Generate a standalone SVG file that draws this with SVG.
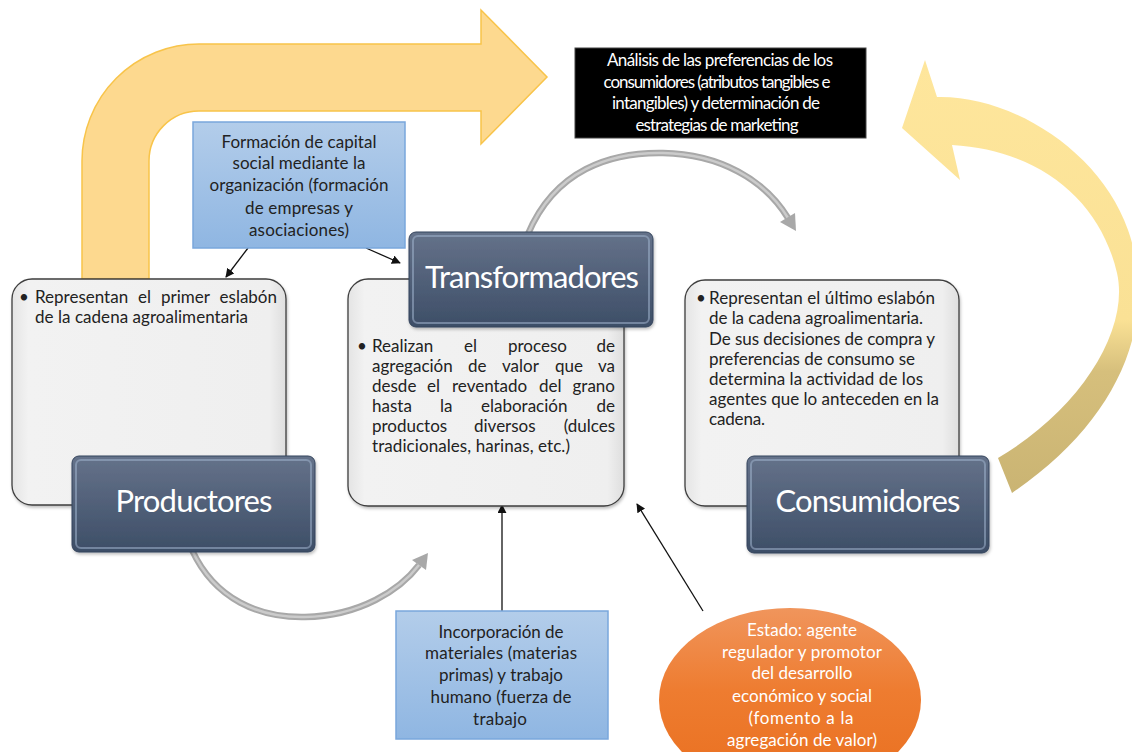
<svg xmlns="http://www.w3.org/2000/svg" width="1132" height="752" viewBox="0 0 1132 752">
<style>
.t{font-family:Lato,"Liberation Sans",sans-serif;font-size:17px;fill:#222}
.c{text-anchor:middle}
.w{fill:#fff}
.ttl{font-family:Lato,"Liberation Sans",sans-serif;font-size:31px;fill:#fff;text-anchor:middle}
.cbox{fill:url(#cg);stroke:#3e3e3e;stroke-width:1.3}
.tbox{fill:url(#tg);stroke:#34445c;stroke-width:1}
.tin{fill:none;stroke:#9fb2cc;stroke-opacity:0.55;stroke-width:2}
.bbox{fill:url(#bg);stroke:#79a7dc;stroke-width:1.5}
.con{fill:none;stroke:#111;stroke-width:1.3;marker-end:url(#ah)}
.arcO{fill:none;stroke:#a8a8a8;stroke-width:6.5}
.arcI{fill:none;stroke:#cbcbcb;stroke-width:2.5}
</style>
<defs>
<linearGradient id="cg" x1="0" y1="0" x2="1" y2="0">
<stop offset="0" stop-color="#e4e4e4"/><stop offset="0.06" stop-color="#f2f2f2"/><stop offset="0.94" stop-color="#efefef"/><stop offset="1" stop-color="#dedede"/>
</linearGradient>
<linearGradient id="tg" x1="0" y1="0" x2="0" y2="1">
<stop offset="0" stop-color="#65728a"/><stop offset="1" stop-color="#3d4e67"/>
</linearGradient>
<linearGradient id="bg" x1="0" y1="0" x2="0" y2="1">
<stop offset="0" stop-color="#b3cdea"/><stop offset="1" stop-color="#8fb6e2"/>
</linearGradient>
<linearGradient id="og" x1="0" y1="0" x2="0" y2="1">
<stop offset="0" stop-color="#f0955c"/><stop offset="0.45" stop-color="#ee7c30"/><stop offset="1" stop-color="#e96f1f"/>
</linearGradient>
<linearGradient id="yg" gradientUnits="userSpaceOnUse" x1="0" y1="60" x2="0" y2="493">
<stop offset="0" stop-color="#fee69c"/><stop offset="0.6" stop-color="#fae195"/><stop offset="0.72" stop-color="#d6bf7c"/><stop offset="1" stop-color="#cab473"/>
</linearGradient>
<marker id="ah" viewBox="0 0 10 10" refX="9" refY="5" markerWidth="9" markerHeight="9" markerUnits="userSpaceOnUse" orient="auto">
<path d="M0,0 L10,5 L0,10 Z" fill="#111"/>
</marker>
<filter id="sh" x="-10%" y="-10%" width="120%" height="120%">
<feDropShadow dx="1" dy="2" stdDeviation="1.5" flood-color="#000" flood-opacity="0.25"/>
</filter>
</defs>

<!-- big arrows -->
<g id="arrow-top">
<path d="M82,279 L82,161 A117,117 0 0 1 199,44 L481,44 L481,10 L547,77 L481,144 L481,111 L199,111 A50,50 0 0 0 149,161 L149,279 Z" fill="#fdd98f" stroke="#f8c44a" stroke-width="1.5"/>
</g>
<g id="arrow-right">
<path d="M925,60 L937,97 C1010,95 1100,150 1128,230 C1160,320 1120,420 1012,493 L998,458 C1080,410 1130,330 1117,273 C1100,200 1040,150 952,145 L960,180 L902,128 Z" fill="url(#yg)"/>
</g>

<g id="connectors">
<path class="arcO" d="M528,234 C555,170 610,152 663,153 C720,154 765,180 788,218"/>
<path class="arcI" d="M528,234 C555,170 610,152 663,153 C720,154 765,180 788,218"/>
<polygon points="796,231 795,213 780,222" fill="#a8a8a8"/>
<path class="arcO" d="M192,550 C215,600 260,618 305,617 C360,616 400,590 419,565"/>
<path class="arcI" d="M192,550 C215,600 260,618 305,617 C360,616 400,590 419,565"/>
<polygon points="428,553 426,570 412,560" fill="#a8a8a8"/>
<line class="con" x1="248" y1="248" x2="226" y2="277"/>
<line class="con" x1="366" y1="248" x2="400" y2="263"/>
<line class="con" x1="502" y1="611" x2="502" y2="505"/>
<line class="con" x1="703" y1="611" x2="637" y2="504"/>
</g>

<g id="analisis">
<rect x="575" y="48" width="291" height="90" fill="#000" stroke="#444" stroke-width="1"/>
<text class="t c w" font-size="15" x="720" y="66" textLength="226">Análisis de las preferencias de los</text>
<text class="t c w" font-size="15" x="717" y="88" textLength="227">consumidores (atributos tangibles e</text>
<text class="t c w" font-size="15" x="716" y="109" textLength="208">intangibles) y determinación de</text>
<text class="t c w" font-size="15" x="717" y="131" textLength="163">estrategias de marketing</text>
</g>

<g id="capital-social">
<rect class="bbox" x="193" y="122" width="212" height="126"/>
<text class="t c" x="299" y="148" textLength="155">Formación de capital</text>
<text class="t c" x="299" y="169" textLength="133">social mediante la</text>
<text class="t c" x="299" y="191" textLength="179">organización (formación</text>
<text class="t c" x="299" y="214" textLength="108">de empresas y</text>
<text class="t c" x="299" y="236" textLength="100">asociaciones)</text>
</g>

<g id="productores">
<rect class="cbox" x="12" y="279" width="274" height="226" rx="20" filter="url(#sh)"/>
<text class="t" x="19" y="303">•</text>
<text class="t" y="303"><tspan x="35">Representan</tspan><tspan x="138">el</tspan><tspan x="161">primer</tspan><tspan x="277" text-anchor="end">eslabón</tspan></text>
<text class="t" x="35" y="323" textLength="213">de la cadena agroalimentaria</text>
<rect class="tbox" x="72" y="456" width="243" height="96" rx="7" filter="url(#sh)"/>
<rect class="tin" x="76" y="460" width="235" height="88" rx="5"/>
<text class="ttl" x="194" y="512" textLength="157">Productores</text>
</g>

<g id="transformadores">
<rect class="cbox" x="348" y="279" width="276" height="227" rx="20" filter="url(#sh)"/>
<rect class="tbox" x="409" y="232" width="244" height="95" rx="7" filter="url(#sh)"/>
<rect class="tin" x="413" y="236" width="236" height="87" rx="5"/>
<text class="ttl" x="532" y="288" textLength="214">Transformadores</text>
<text class="t" x="357" y="352">•</text>
<text class="t" y="352"><tspan x="372">Realizan</tspan><tspan x="464">el</tspan><tspan x="508">proceso</tspan><tspan x="615" text-anchor="end">de</tspan></text>
<text class="t" y="372"><tspan x="372">agregación</tspan><tspan x="468">de</tspan><tspan x="502">valor</tspan><tspan x="555">que</tspan><tspan x="615" text-anchor="end">va</tspan></text>
<text class="t" y="392"><tspan x="372">desde</tspan><tspan x="427">el</tspan><tspan x="452">reventado</tspan><tspan x="539">del</tspan><tspan x="615" text-anchor="end">grano</tspan></text>
<text class="t" y="412"><tspan x="372">hasta</tspan><tspan x="440">la</tspan><tspan x="481">elaboración</tspan><tspan x="615" text-anchor="end">de</tspan></text>
<text class="t" y="432"><tspan x="372">productos</tspan><tspan x="474">diversos</tspan><tspan x="615" text-anchor="end">(dulces</tspan></text>
<text class="t" x="372" y="452" textLength="198">tradicionales, harinas, etc.)</text>
</g>

<g id="consumidores">
<rect class="cbox" x="685" y="280" width="274" height="226" rx="20" filter="url(#sh)"/>
<text class="t" x="696" y="304">•</text>
<text class="t" x="709" y="304" textLength="226">Representan el último eslabón</text>
<text class="t" x="709" y="324" textLength="214">de la cadena agroalimentaria.</text>
<text class="t" x="709" y="345" textLength="226">De sus decisiones de compra y</text>
<text class="t" x="709" y="365" textLength="206">preferencias de consumo se</text>
<text class="t" x="709" y="385" textLength="214">determina la actividad de los</text>
<text class="t" x="709" y="405" textLength="230">agentes que lo anteceden en la</text>
<text class="t" x="709" y="425" textLength="56">cadena.</text>
<rect class="tbox" x="747" y="456" width="242" height="97" rx="7" filter="url(#sh)"/>
<rect class="tin" x="751" y="460" width="234" height="89" rx="5"/>
<text class="ttl" x="868" y="512" textLength="185">Consumidores</text>
</g>

<g id="materiales">
<rect class="bbox" x="396" y="611" width="212" height="128"/>
<text class="t c" x="501" y="638" textLength="125">Incorporación de</text>
<text class="t c" x="501" y="659" textLength="152">materiales (materias</text>
<text class="t c" x="501" y="681" textLength="124">primas) y trabajo</text>
<text class="t c" x="501" y="703" textLength="141">humano (fuerza de</text>
<text class="t c" x="500" y="725" textLength="54">trabajo</text>
</g>

<g id="estado">
<ellipse cx="790" cy="700" rx="131" ry="92" fill="url(#og)"/>
<text class="t c w" x="802" y="636" textLength="110">Estado: agente</text>
<text class="t c w" x="802" y="658" textLength="160">regulador y promotor</text>
<text class="t c w" x="802" y="679" textLength="101">del desarrollo</text>
<text class="t c w" x="802" y="702" textLength="140">económico y social</text>
<text class="t c w" x="801" y="724" textLength="105">(fomento a la</text>
<text class="t c w" x="802" y="746" textLength="150">agregación de valor)</text>
</g>
</svg>
